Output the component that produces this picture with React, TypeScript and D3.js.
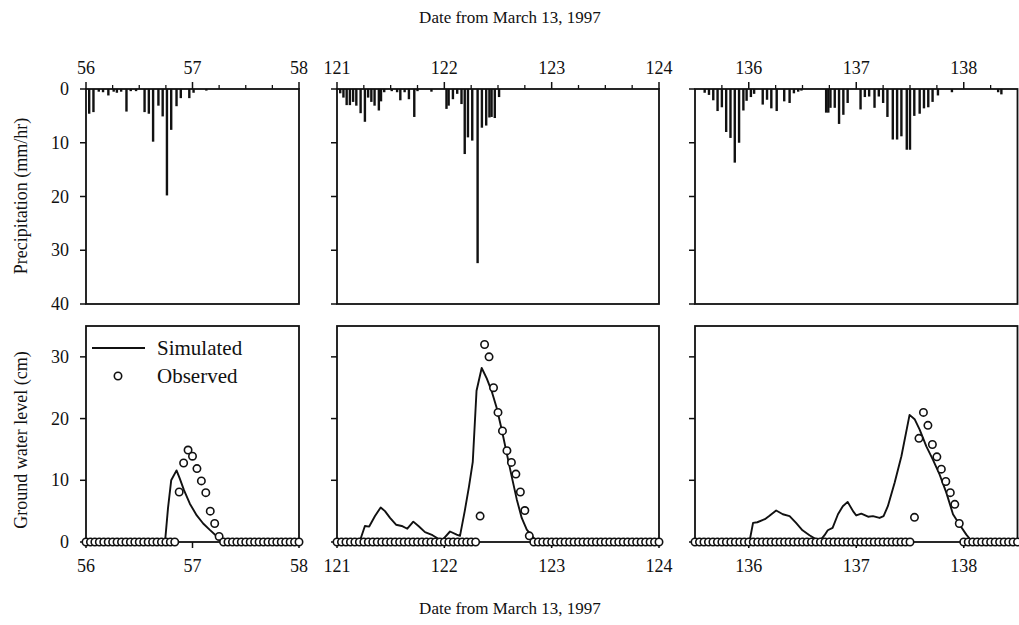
import React from "react";
import * as d3 from "d3";

// precipitation bars (day, mm/hr)
const rainDaysA = [56.03, 56.07, 56.12, 56.16, 56.21, 56.26, 56.29, 56.33, 56.38, 56.42, 56.47, 56.55, 56.59, 56.63, 56.68, 56.72, 56.76, 56.8, 56.85, 56.89, 56.97, 57.01, 57.13];
const rainA = [4.6, 4.3, 0.5, 0.6, 1.2, 0.5, 0.7, 0.5, 4.2, 0.4, 0.4, 4.3, 4.6, 9.8, 3.1, 5.1, 19.8, 7.6, 3.2, 1.7, 1.7, 0.7, 0.3];

const rainDaysB = [121.03, 121.06, 121.09, 121.12, 121.15, 121.18, 121.22, 121.26, 121.29, 121.32, 121.35, 121.39, 121.41, 121.44, 121.51, 121.56, 121.59, 121.63, 121.67, 121.72, 121.75, 121.88, 122.02, 122.04, 122.08, 122.12, 122.16, 122.19, 122.22, 122.26, 122.31, 122.35, 122.39, 122.42, 122.44, 122.47, 122.51];
const rainB = [0.8, 1.6, 3.0, 3.0, 2.4, 3.1, 4.5, 6.1, 1.6, 2.4, 3.1, 4.0, 2.3, 0.6, 0.4, 0.6, 2.1, 0.6, 1.9, 5.2, 0.4, 0.5, 3.7, 3.1, 1.9, 0.9, 2.8, 12.1, 9.0, 9.6, 32.4, 7.2, 6.8, 5.3, 5.2, 5.4, 1.5];

const rainDaysC = [135.59, 135.63, 135.67, 135.71, 135.75, 135.79, 135.83, 135.87, 135.91, 135.95, 135.98, 136.02, 136.05, 136.13, 136.17, 136.21, 136.26, 136.33, 136.38, 136.42, 136.46, 136.49, 136.72, 136.74, 136.76, 136.8, 136.84, 136.88, 136.92, 137.04, 137.08, 137.12, 137.17, 137.21, 137.25, 137.29, 137.34, 137.38, 137.42, 137.47, 137.5, 137.54, 137.59, 137.63, 137.67, 137.71, 137.76, 137.89, 138.32, 138.35];
const rainC = [0.7, 1.1, 2.1, 4.1, 3.4, 8.0, 9.1, 13.7, 10.0, 4.0, 2.2, 1.5, 0.9, 2.9, 2.0, 3.6, 4.1, 2.3, 2.6, 0.8, 0.5, 0.3, 4.4, 4.4, 3.5, 3.5, 6.5, 4.8, 2.6, 3.8, 1.5, 1.4, 3.5, 1.4, 2.6, 5.2, 9.4, 9.4, 8.8, 11.3, 11.3, 5.0, 4.6, 3.6, 3.4, 2.4, 1.2, 0.6, 0.6, 1.0];

// simulated ground water level (day, cm)
const simDaysA = [56, 56.726, 56.745, 56.77, 56.8, 56.85, 56.88, 56.92, 56.975, 57.04, 57.1, 57.16, 57.23, 57.27, 58];
const simA = [0, 0, 0.6, 5.5, 10.0, 11.6, 10.3, 8.4, 6.2, 4.3, 3.0, 2.0, 0.9, 0, 0];

const simDaysB = [121, 121.21, 121.26, 121.3, 121.354, 121.407, 121.447, 121.494, 121.55, 121.603, 121.655, 121.711, 121.764, 121.82, 121.89, 121.975, 122.053, 122.115, 122.146, 122.19, 122.23, 122.265, 122.3, 122.348, 122.395, 122.442, 122.488, 122.535, 122.581, 122.628, 122.675, 122.721, 122.768, 122.83, 122.876, 124];
const simB = [0, 0, 2.6, 2.5, 4.2, 5.6, 5.0, 3.9, 2.8, 2.6, 2.15, 3.3, 2.5, 1.6, 1.1, 0.2, 1.7, 1.2, 1.0, 5.0, 9.0, 13.0, 24.5, 28.2, 26.5, 24.4, 21.7, 18.2, 14.4, 10.6, 6.9, 3.9, 2.0, 0.7, 0, 0];

const simDaysC = [135.5, 136.006, 136.04, 136.08, 136.15, 136.19, 136.255, 136.317, 136.38, 136.44, 136.5, 136.565, 136.63, 136.66, 136.705, 136.735, 136.78, 136.83, 136.875, 136.92, 136.97, 137.0, 137.047, 137.11, 137.155, 137.217, 137.254, 137.294, 137.357, 137.42, 137.496, 137.543, 137.59, 137.652, 137.714, 137.776, 137.838, 137.9, 137.962, 138.024, 138.08, 138.5];
const simC = [0, 0, 3.1, 3.2, 3.7, 4.2, 5.1, 4.5, 4.2, 3.1, 1.9, 1.1, 0.4, 0.15, 1.1, 1.9, 2.3, 4.5, 5.8, 6.5, 5.0, 4.3, 4.6, 4.1, 4.2, 3.9, 4.2, 5.8, 9.6, 13.9, 20.6, 19.9, 18.2, 15.5, 13.3, 10.9, 8.0, 4.5, 2.8, 1.2, 0, 0];

// observed ground water level, hourly (cm)
const obsStartA = 56;
const obsA = [
  0, 0, 0, 0, 0, 0, 0, 0, 0, 0, 0, 0, 0, 0, 0, 0, 0, 0, 0, 0, 0,
  8.1, 12.8, 14.9, 13.9, 11.9, 9.9, 8.0, 5.0, 3.0, 0.9,
  0, 0, 0, 0, 0, 0, 0, 0, 0, 0, 0, 0, 0, 0, 0, 0, 0, 0,
];
const obsStartB = 121;
const obsB = [
  0, 0, 0, 0, 0, 0, 0, 0, 0, 0, 0, 0, 0, 0, 0, 0, 0, 0, 0, 0, 0, 0, 0, 0, 0, 0, 0, 0, 0, 0, 0, 0,
  4.2, 32.0, 30.0, 25.0, 21.0, 18.0, 14.8, 12.9, 11.0, 8.1, 5.1, 1.0,
  0, 0, 0, 0, 0, 0, 0, 0, 0, 0, 0, 0, 0, 0, 0, 0, 0, 0, 0, 0, 0, 0, 0, 0, 0, 0, 0, 0, 0,
];
const obsStartC = 135.5;
const obsC = [
  0, 0, 0, 0, 0, 0, 0, 0, 0, 0, 0, 0, 0, 0, 0, 0, 0, 0, 0, 0, 0, 0, 0, 0, 0,
  0, 0, 0, 0, 0, 0, 0, 0, 0, 0, 0, 0, 0, 0, 0, 0, 0, 0, 0, 0, 0, 0, 0, 0,
  4.0, 16.8, 21.0, 18.9, 15.8, 13.8, 11.8, 9.8, 8.0, 6.1, 3.0,
  0, 0, 0, 0, 0, 0, 0, 0, 0, 0, 0, 0, 0,
];

const xTicksA = [56, 57, 58];
const xTicksB = [121, 122, 123, 124];
const xTicksC = [136, 137, 138];
const rainTicks = [0, 10, 20, 30, 40];
const gwTicks = [0, 10, 20, 30];

const INK = "#111";
const FONT = "'Liberation Serif', 'Times New Roman', serif";

const yRain = d3.scaleLinear().domain([0, 40]).range([89, 304]);
const yGw = d3.scaleLinear().domain([0, 35]).range([542, 326]);

type PanelDef = {
  domain: [number, number];
  range: [number, number];
  ticks: number[];
  rainDays: number[];
  rain: number[];
  simDays: number[];
  sim: number[];
  obsStart: number;
  obs: number[];
  first: boolean;
};

const panels: PanelDef[] = [
  { domain: [56, 58], range: [86, 299], ticks: xTicksA, rainDays: rainDaysA, rain: rainA, simDays: simDaysA, sim: simA, obsStart: obsStartA, obs: obsA, first: true },
  { domain: [121, 124], range: [337, 659], ticks: xTicksB, rainDays: rainDaysB, rain: rainB, simDays: simDaysB, sim: simB, obsStart: obsStartB, obs: obsB, first: false },
  { domain: [135.5, 138.5], range: [695, 1017.5], ticks: xTicksC, rainDays: rainDaysC, rain: rainC, simDays: simDaysC, sim: simC, obsStart: obsStartC, obs: obsC, first: false },
];

function Panel({ d }: { d: PanelDef }) {
  const x = d3.scaleLinear().domain(d.domain).range(d.range);
  const [x0, x1] = d.range;
  const minor = d3
    .range(Math.ceil(d.domain[0] * 4) / 4, d.domain[1] + 1e-9, 0.25)
    .filter((v) => !Number.isInteger(v) && v > d.domain[0] && v < d.domain[1]);
  const simLine = d3
    .line<number>()
    .x((_, i) => x(d.simDays[i]))
    .y((v) => yGw(v));

  return (
    <g>
      {/* precipitation bars hang from the top axis */}
      {d.rain.map((v, i) => (
        <rect key={"r" + i} x={x(d.rainDays[i]) - 1.2} y={yRain(0)} width={2.4} height={yRain(v) - yRain(0)} fill={INK} />
      ))}
      <rect x={x0} y={yRain(0)} width={x1 - x0} height={yRain(40) - yRain(0)} fill="none" stroke={INK} strokeWidth={1.8} />
      {d.ticks.map((t) => (
        <g key={"tt" + t}>
          <line x1={x(t)} x2={x(t)} y1={yRain(0)} y2={yRain(0) - 7} stroke={INK} strokeWidth={1.5} />
          <text x={x(t)} y={74} textAnchor="middle" fontSize={18} fontFamily={FONT} fill={INK}>{t}</text>
        </g>
      ))}
      {minor.map((t) => (
        <line key={"tm" + t} x1={x(t)} x2={x(t)} y1={yRain(0)} y2={yRain(0) - 4} stroke={INK} strokeWidth={1.3} />
      ))}
      {rainTicks.map((t) => (
        <g key={"ry" + t}>
          <line x1={x0} x2={x0 - 6} y1={yRain(t)} y2={yRain(t)} stroke={INK} strokeWidth={1.5} />
          {d.first && (
            <text x={69} y={yRain(t) + 6} textAnchor="end" fontSize={18} fontFamily={FONT} fill={INK}>{t}</text>
          )}
        </g>
      ))}

      {/* ground water level */}
      <rect x={x0} y={yGw(35)} width={x1 - x0} height={yGw(0) - yGw(35)} fill="none" stroke={INK} strokeWidth={1.8} />
      {d.ticks.map((t) => (
        <g key={"bt" + t}>
          <line x1={x(t)} x2={x(t)} y1={yGw(0)} y2={yGw(0) + 6} stroke={INK} strokeWidth={1.5} />
          <text x={x(t)} y={572} textAnchor="middle" fontSize={18} fontFamily={FONT} fill={INK}>{t}</text>
        </g>
      ))}
      {gwTicks.map((t) => (
        <g key={"gy" + t}>
          <line x1={x0} x2={x0 - 6} y1={yGw(t)} y2={yGw(t)} stroke={INK} strokeWidth={1.5} />
          {d.first && (
            <text x={69} y={yGw(t) + 6} textAnchor="end" fontSize={18} fontFamily={FONT} fill={INK}>{t}</text>
          )}
        </g>
      ))}
      <path d={simLine(d.sim) || ""} fill="none" stroke={INK} strokeWidth={1.9} strokeLinejoin="round" />
      {d.obs.map((v, i) => (
        <circle key={"o" + i} cx={x(d.obsStart + i / 24)} cy={yGw(v)} r={3.7} fill="#fff" stroke={INK} strokeWidth={1.6} />
      ))}
    </g>
  );
}

export default function App() {
  return (
    <svg width={1019} height={625} style={{ position: "absolute", left: 0, top: 0, background: "#fff" }}>
      <rect width={1019} height={625} fill="#fff" />
      <text x={510} y={23} textAnchor="middle" fontSize={17} fontFamily={FONT} fill={INK}>Date from March 13, 1997</text>
      <text x={510} y={614} textAnchor="middle" fontSize={17} fontFamily={FONT} fill={INK}>Date from March 13, 1997</text>
      <text transform="translate(27,196) rotate(-90)" textAnchor="middle" fontSize={18} fontFamily={FONT} fill={INK}>Precipitation (mm/hr)</text>
      <text transform="translate(27,440) rotate(-90)" textAnchor="middle" fontSize={18} fontFamily={FONT} fill={INK}>Ground water level (cm)</text>
      {panels.map((p, i) => (
        <Panel key={i} d={p} />
      ))}
      {/* legend */}
      <line x1={92} x2={145} y1={348} y2={348} stroke={INK} strokeWidth={1.9} />
      <text x={157} y={355} fontSize={21} fontFamily={FONT} fill={INK}>Simulated</text>
      <circle cx={118} cy={376} r={3.7} fill="#fff" stroke={INK} strokeWidth={1.6} />
      <text x={157} y={383} fontSize={21} fontFamily={FONT} fill={INK}>Observed</text>
    </svg>
  );
}
